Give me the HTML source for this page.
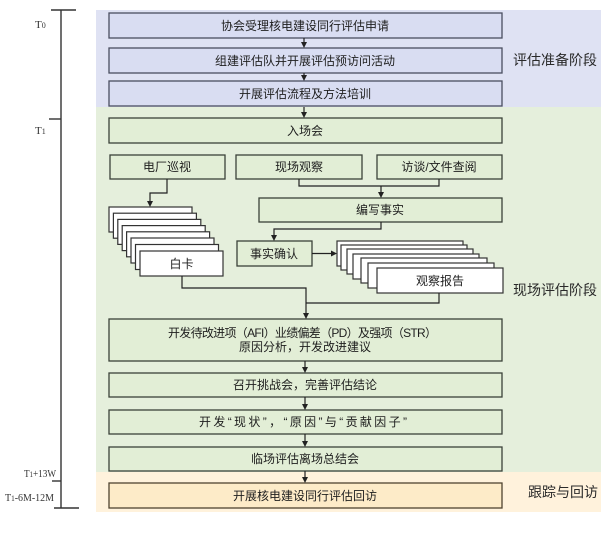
<!DOCTYPE html>
<html><head><meta charset="utf-8">
<style>
html,body{margin:0;padding:0;background:#fff;}
svg{display:block;}
text{font-family:"Liberation Sans","Noto Sans CJK SC",sans-serif;}
.t{font-size:12px;fill:#1e1e1e;text-anchor:middle;}
.s{font-family:"Liberation Serif","Noto Serif CJK SC",serif;font-size:11px;fill:#333;}
.lab{font-size:14px;fill:#2a2a2a;}
</style></head>
<body>
<svg width="605" height="534" viewBox="0 0 605 534" xmlns="http://www.w3.org/2000/svg">
<rect width="605" height="534" fill="#fff"/>
<!-- phase backgrounds -->
<rect x="96" y="10" width="505" height="97" fill="#dfe2f3"/>
<rect x="96" y="107" width="505" height="365" fill="#e5efdc"/>
<rect x="96" y="472" width="505" height="40" fill="#fff2dc"/>

<!-- timeline -->
<g stroke="#333" stroke-width="1.4" fill="none">
<line x1="61" y1="10" x2="61" y2="508"/>
<line x1="51" y1="10" x2="76" y2="10"/>
<line x1="49" y1="119" x2="61" y2="119"/>
<line x1="52" y1="481" x2="61" y2="481"/>
<line x1="54" y1="508" x2="79" y2="508"/>
</g>
<text class="s" x="35" y="28">T<tspan font-size="8">0</tspan></text>
<text class="s" x="35" y="134">T<tspan font-size="8">1</tspan></text>
<text class="s" x="24" y="477" textLength="32" lengthAdjust="spacingAndGlyphs">T<tspan font-size="8">1</tspan>+13W</text>
<text class="s" x="5" y="501" textLength="49" lengthAdjust="spacingAndGlyphs">T<tspan font-size="8">1</tspan>-6M-12M</text>

<!-- blue boxes -->
<g fill="#d9ddf2" stroke="#4a4e60" stroke-width="1.3">
<rect x="109" y="13" width="393" height="25"/>
<rect x="109" y="48" width="393" height="25"/>
<rect x="109" y="81" width="393" height="25"/>
</g>
<text class="t" x="305" y="30">协会受理核电建设同行评估申请</text>
<text class="t" x="305" y="65">组建评估队并开展评估预访问活动</text>
<text class="t" x="305" y="98">开展评估流程及方法培训</text>

<!-- green boxes -->
<g fill="#e2eed6" stroke="#3b4239" stroke-width="1.3">
<rect x="109" y="118" width="393" height="25"/>
<rect x="110" y="155" width="115" height="24"/>
<rect x="236" y="155" width="126" height="24"/>
<rect x="377" y="155" width="125" height="24"/>
<rect x="259" y="198" width="243" height="24"/>
<rect x="237" y="241" width="75" height="25"/>
<rect x="109" y="319" width="393" height="42"/>
<rect x="109" y="373" width="393" height="24"/>
<rect x="109" y="410" width="393" height="24"/>
<rect x="109" y="447" width="393" height="24"/>
</g>
<text class="t" x="305" y="135">入场会</text>
<text class="t" x="167" y="171">电厂巡视</text>
<text class="t" x="299" y="171">现场观察</text>
<text class="t" x="439" y="171">访谈/文件查阅</text>
<text class="t" x="380" y="214">编写事实</text>
<text class="t" x="274" y="258">事实确认</text>
<text class="t" x="302.5" y="337" textLength="269" lengthAdjust="spacing">开发待改进项（AFI）业绩偏差（PD）及强项（STR）</text>
<text class="t" x="305" y="351">原因分析，开发改进建议</text>
<text class="t" x="305" y="389">召开挑战会，完善评估结论</text>
<text class="t" x="303" y="426" textLength="208" lengthAdjust="spacing">开发“现状”，“原因”与“贡献因子”</text>
<text class="t" x="305" y="463">临场评估离场总结会</text>

<!-- orange box -->
<rect x="109" y="483" width="393" height="25" fill="#fdebc8" stroke="#4f4330" stroke-width="1.3"/>
<text class="t" x="305" y="500">开展核电建设同行评估回访</text>

<!-- white card stack 白卡 -->
<g fill="#fff" stroke="#333" stroke-width="1.2">
<rect x="109" y="207" width="83" height="25"/>
<rect x="113.4" y="213.2" width="83" height="25"/>
<rect x="117.8" y="219.4" width="83" height="25"/>
<rect x="122.2" y="225.6" width="83" height="25"/>
<rect x="126.6" y="231.8" width="83" height="25"/>
<rect x="131" y="238" width="83" height="25"/>
<rect x="135.5" y="244.5" width="83" height="25"/>
<rect x="140" y="251" width="83" height="25"/>
</g>
<text class="t" x="181.5" y="268">白卡</text>

<!-- 观察报告 stack -->
<g fill="#fff" stroke="#333" stroke-width="1.2">
<rect x="337" y="241" width="126" height="25"/>
<rect x="341" y="245" width="126" height="25"/>
<rect x="347" y="249" width="126" height="25"/>
<rect x="353" y="254" width="126" height="25"/>
<rect x="361" y="258" width="126" height="25"/>
<rect x="368" y="263" width="126" height="25"/>
<rect x="377" y="268" width="126" height="25"/>
</g>
<text class="t" x="440" y="285">观察报告</text>

<!-- connectors -->
<g stroke="#222" stroke-width="1.2" fill="none">
<line x1="304" y1="38" x2="304" y2="43"/>
<line x1="304" y1="73" x2="304" y2="76"/>
<line x1="304" y1="107" x2="304" y2="113"/>
<path d="M167,179 V193 H150 V202"/>
<path d="M299,179 V186 H439 V179"/>
<line x1="381" y1="186" x2="381" y2="193"/>
<path d="M381,222 V229 H274 V236"/>
<line x1="312" y1="253.5" x2="332" y2="253.5"/>
<path d="M182,276 V288 H306 V314"/>
<path d="M439,293 V303 H306"/>
<line x1="305" y1="361" x2="305" y2="368"/>
<line x1="305" y1="397" x2="305" y2="405"/>
<line x1="305" y1="434" x2="305" y2="442"/>
<line x1="305" y1="471" x2="305" y2="478"/>
</g>
<g fill="#222">
<polygon points="301,42 307,42 304,48"/>
<polygon points="301,75 307,75 304,81"/>
<polygon points="301,112 307,112 304,118"/>
<polygon points="147,201 153,201 150,207"/>
<polygon points="378,192 384,192 381,198"/>
<polygon points="271,235 277,235 274,241"/>
<polygon points="331,250.5 331,256.5 337,253.5"/>
<polygon points="303,313 309,313 306,319"/>
<polygon points="302,367 308,367 305,373"/>
<polygon points="302,404 308,404 305,410"/>
<polygon points="302,441 308,441 305,447"/>
<polygon points="302,477 308,477 305,483"/>
</g>

<!-- phase labels -->
<text class="lab" x="513" y="65">评估准备阶段</text>
<text class="lab" x="513" y="295">现场评估阶段</text>
<text class="lab" x="528" y="497">跟踪与回访</text>
</svg>
</body></html>
